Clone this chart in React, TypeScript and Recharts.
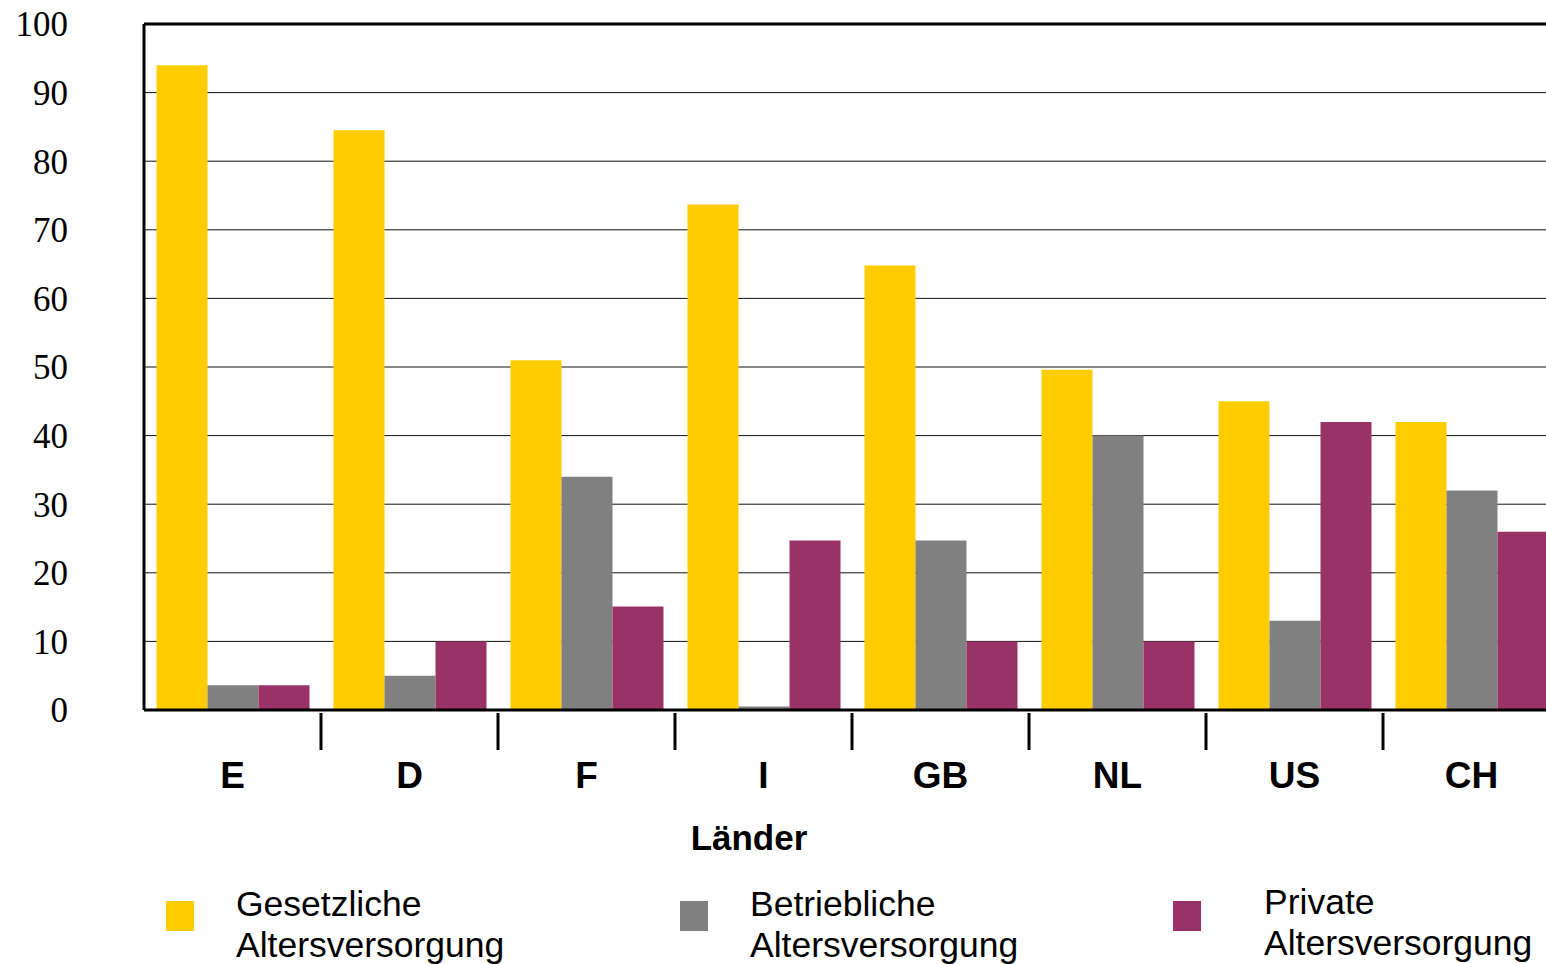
import React from 'react';
import { BarChart, Bar, XAxis, YAxis, CartesianGrid, ReferenceLine, Legend, Label } from 'recharts';

const countries = ['E', 'D', 'F', 'I', 'GB', 'NL', 'US', 'CH'];
const gesetzliche = [94, 84.5, 51, 73.7, 64.8, 49.6, 45, 42];
const betriebliche = [3.6, 5, 34, 0.5, 24.7, 40, 13, 32];
const privat = [3.6, 10, 15.1, 24.7, 10, 10, 42, 26];
const yTicks = [0, 10, 20, 30, 40, 50, 60, 70, 80, 90, 100];
const seriesNames = ['Gesetzliche Altersversorgung', 'Betriebliche Altersversorgung', 'Private Altersversorgung'];
const seriesColors = ['#FFCC00', '#808080', '#993366'];
const axisTitle = 'Länder';

const data = countries.map((c, i) => ({
  country: c,
  gesetzliche: gesetzliche[i],
  betriebliche: betriebliche[i],
  privat: privat[i],
}));

const SANS = '"Liberation Sans", Arial, sans-serif';
const SERIF = '"Liberation Serif", "Times New Roman", serif';

const CountryTick = (props: any) => {
  const { x, y, payload, index } = props;
  const half = payload && payload.offset ? payload.offset : 88.5;
  return (
    <g>
      {index > 0 && (
        <line x1={x - half} x2={x - half} y1={y + 3} y2={y + 40} stroke="#000" strokeWidth={3} />
      )}
      <text x={x} y={y + 78} textAnchor="middle" fontFamily={SANS} fontWeight="bold" fontSize={37} fill="#000">
        {payload.value}
      </text>
    </g>
  );
};

const legendSquareLeft = [166, 680, 1173];
const legendTextLeft = [236, 750, 1264];
const legendTextTop = [884, 884, 882];

const LegendContent = (props: any) => {
  const payload = [...(props.payload || [])].sort(
    (a: any, b: any) => seriesNames.indexOf(a.value) - seriesNames.indexOf(b.value)
  );
  return (
    <div style={{ position: 'relative', width: 1546, height: 0 }}>
      {payload.map((p: any, i: number) => (
        <div key={i}>
          <div
            style={{
              position: 'absolute',
              left: legendSquareLeft[i],
              top: 901,
              width: 28,
              height: 30,
              background: p.color,
            }}
          />
          <div
            style={{
              position: 'absolute',
              left: legendTextLeft[i],
              top: legendTextTop[i],
              width: 290,
              fontFamily: SANS,
              fontSize: 35.5,
              lineHeight: '41px',
              color: '#000',
              whiteSpace: 'normal',
            }}
          >
            {p.value}
          </div>
        </div>
      ))}
    </div>
  );
};

export default function App() {
  return (
    <div style={{ position: 'absolute', left: 0, top: 0, width: 1546, height: 964, overflow: 'hidden', background: '#fff' }}>
      <BarChart
        width={1560}
        height={964}
        data={data}
        margin={{ top: 24, right: 0, bottom: 114, left: 0 }}
        barCategoryGap={12.5}
        barGap={0}
      >
        <CartesianGrid vertical={false} stroke="#111" strokeWidth={1} />
        <YAxis
          type="number"
          domain={[0, 100]}
          ticks={yTicks}
          width={144}
          axisLine={{ stroke: '#000', strokeWidth: 3 }}
          tickLine={false}
          tickSize={0}
          tickMargin={76}
          tick={{ fontFamily: SERIF, fontSize: 35, fill: '#000' }}
          interval={0}
        />
        <XAxis
          dataKey="country"
          height={140}
          axisLine={{ stroke: '#000', strokeWidth: 3 }}
          tickLine={false}
          tickSize={0}
          tickMargin={0}
          interval={0}
          tick={<CountryTick />}
        >
          <Label
            content={(p: any) => {
              const vb = p.viewBox || { x: 144, y: 710, width: 1416, height: 140 };
              return (
                <text
                  x={vb.x + vb.width / 2 - 103}
                  y={vb.y + 140}
                  textAnchor="middle"
                  fontFamily={SANS}
                  fontWeight="bold"
                  fontSize={35}
                  fill="#000"
                >
                  {axisTitle}
                </text>
              );
            }}
          />
        </XAxis>
        <ReferenceLine y={100} stroke="#000" strokeWidth={3} />
        <Bar dataKey="gesetzliche" name={seriesNames[0]} fill={seriesColors[0]} isAnimationActive={false} />
        <Bar dataKey="betriebliche" name={seriesNames[1]} fill={seriesColors[1]} isAnimationActive={false} />
        <Bar dataKey="privat" name={seriesNames[2]} fill={seriesColors[2]} isAnimationActive={false} />
        <Legend
          content={<LegendContent />}
          wrapperStyle={{ left: 0, top: 0, width: 1546, height: 0, overflow: 'visible' }}
        />
      </BarChart>
    </div>
  );
}
